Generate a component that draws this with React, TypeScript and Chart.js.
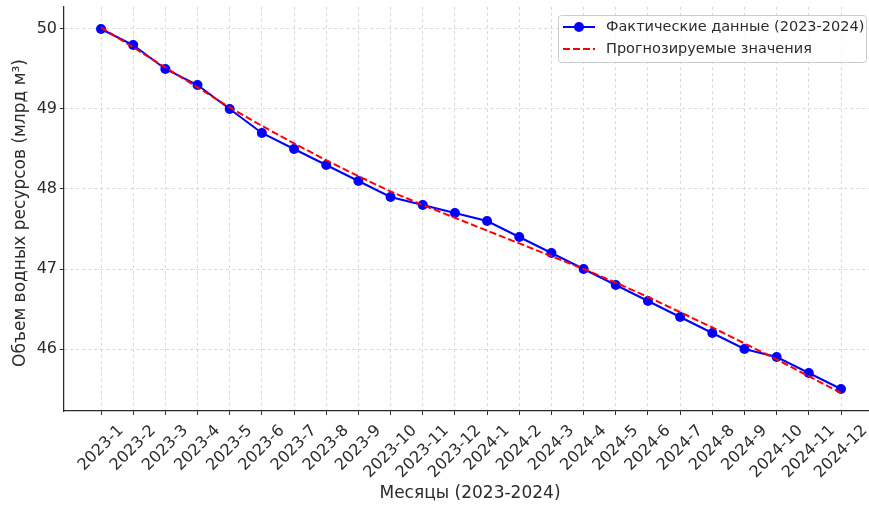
import React, { useEffect, useRef } from "react";
import { Chart, registerables } from "chart.js";

Chart.register(...registerables);

const months = [
  "2023-1", "2023-2", "2023-3", "2023-4", "2023-5", "2023-6",
  "2023-7", "2023-8", "2023-9", "2023-10", "2023-11", "2023-12",
  "2024-1", "2024-2", "2024-3", "2024-4", "2024-5", "2024-6",
  "2024-7", "2024-8", "2024-9", "2024-10", "2024-11", "2024-12",
];

const actual = [
  50.0, 49.8, 49.5, 49.3, 49.0, 48.7, 48.5, 48.3, 48.1, 47.9, 47.8, 47.7,
  47.6, 47.4, 47.2, 47.0, 46.8, 46.6, 46.4, 46.2, 46.0, 45.9, 45.7, 45.5,
];

const forecast = [
  50.02, 49.77, 49.52, 49.27, 49.02, 48.79, 48.57, 48.36, 48.16, 47.97, 47.8, 47.64,
  47.48, 47.32, 47.16, 47.0, 46.83, 46.65, 46.46, 46.27, 46.07, 45.87, 45.66, 45.45,
];

const yTicks = [46, 47, 48, 49, 50];

const actualLabel = "Фактические данные (2023-2024)";
const forecastLabel = "Прогнозируемые значения";
const xTitle = "Месяцы (2023-2024)";
const yTitle = "Объем водных ресурсов (млрд м³)";

const FONT = "DejaVu Sans";
const TEXT = "#2b2b2b";
const BLUE = "#0000ff";
const RED = "#ff0000";
const GRID = "#cfcfcf";

export default function App() {
  const ref = useRef<HTMLCanvasElement>(null);

  useEffect(() => {
    if (!ref.current) return;

    const decor = {
      id: "mplDecor",
      afterDraw(chart: any) {
        const ctx: CanvasRenderingContext2D = chart.ctx;
        const xs = chart.scales.x;
        const area = chart.chartArea;
        ctx.save();
        ctx.fillStyle = TEXT;
        ctx.font = `16px "${FONT}"`;
        // rotated x tick labels, centred on each tick (matplotlib style)
        months.forEach((m, i) => {
          const px = xs.getPixelForValue(i);
          const w = ctx.measureText(m).width;
          const h = 16 * 0.9;
          const half = (w + h) / (2 * Math.SQRT2);
          const cy = area.bottom + 12 + half;
          ctx.save();
          ctx.translate(px, cy);
          ctx.rotate(-Math.PI / 4);
          ctx.textAlign = "center";
          ctx.textBaseline = "middle";
          ctx.fillText(m, 0, 0);
          ctx.restore();
        });
        // axis titles
        ctx.font = `17px "${FONT}"`;
        ctx.textAlign = "center";
        ctx.textBaseline = "middle";
        ctx.fillText(xTitle, (area.left + area.right) / 2 - 1, 494);
        ctx.save();
        ctx.translate(21, (area.top + area.bottom) / 2 + 4);
        ctx.rotate(-Math.PI / 2);
        ctx.fillText(yTitle, 0, 0);
        ctx.restore();

        // legend
        const bx = 558.5, by = 15.5, bw = 308, bh = 47, r = 3;
        ctx.beginPath();
        ctx.moveTo(bx + r, by);
        ctx.lineTo(bx + bw - r, by);
        ctx.arcTo(bx + bw, by, bx + bw, by + r, r);
        ctx.lineTo(bx + bw, by + bh - r);
        ctx.arcTo(bx + bw, by + bh, bx + bw - r, by + bh, r);
        ctx.lineTo(bx + r, by + bh);
        ctx.arcTo(bx, by + bh, bx, by + bh - r, r);
        ctx.lineTo(bx, by + r);
        ctx.arcTo(bx, by, bx + r, by, r);
        ctx.closePath();
        ctx.fillStyle = "rgba(255,255,255,0.8)";
        ctx.fill();
        ctx.strokeStyle = "#cccccc";
        ctx.lineWidth = 1;
        ctx.stroke();

        const y1 = 27, y2 = 49, lx0 = 563, lx1 = 595;
        ctx.strokeStyle = BLUE;
        ctx.lineWidth = 2;
        ctx.setLineDash([]);
        ctx.beginPath();
        ctx.moveTo(lx0, y1);
        ctx.lineTo(lx1, y1);
        ctx.stroke();
        ctx.fillStyle = BLUE;
        ctx.beginPath();
        ctx.arc((lx0 + lx1) / 2, y1, 5, 0, Math.PI * 2);
        ctx.fill();

        ctx.strokeStyle = RED;
        ctx.setLineDash([7, 3]);
        ctx.beginPath();
        ctx.moveTo(lx0, y2);
        ctx.lineTo(lx1, y2);
        ctx.stroke();
        ctx.setLineDash([]);

        ctx.fillStyle = TEXT;
        ctx.font = `14.5px "${FONT}"`;
        ctx.textAlign = "left";
        ctx.textBaseline = "middle";
        ctx.fillText(actualLabel, 606, y1);
        ctx.fillText(forecastLabel, 606, y2);
        ctx.restore();
      },
    };

    const chart = new Chart(ref.current, {
      type: "line",
      data: {
        datasets: [
          {
            label: forecastLabel,
            data: forecast.map((v, i) => ({ x: i, y: v })),
            borderColor: RED,
            backgroundColor: RED,
            borderWidth: 2,
            borderDash: [7, 3],
            pointRadius: 0,
            fill: false,
            tension: 0,
            order: 0,
          },
          {
            label: actualLabel,
            data: actual.map((v, i) => ({ x: i, y: v })),
            borderColor: BLUE,
            backgroundColor: BLUE,
            borderWidth: 2,
            pointRadius: 5,
            pointBorderWidth: 0,
            pointBackgroundColor: BLUE,
            fill: false,
            tension: 0,
            order: 1,
          },
        ],
      },
      options: {
        animation: false,
        responsive: false,
        maintainAspectRatio: false,
        layout: { padding: { top: 7, right: 12, left: 0, bottom: 0 } },
        plugins: {
          legend: { display: false },
          tooltip: { enabled: false },
          title: { display: false },
        },
        scales: {
          x: {
            type: "linear",
            min: -1.15,
            max: months.length - 1 + 1.15,
            afterBuildTicks: (axis: any) => {
              axis.ticks = months.map((_, i) => ({ value: i }));
            },
            afterFit: (axis: any) => {
              axis.height = 94;
              axis.paddingLeft = 0;
              axis.paddingRight = 0;
            },
            grid: {
              color: GRID,
              lineWidth: 0.8,
              drawTicks: true,
              tickLength: 4,
              tickColor: TEXT,
              tickWidth: 1,
            },
            border: { display: true, color: TEXT, width: 1.25, dash: [3, 3] },
            ticks: { display: false },
          },
          y: {
            type: "linear",
            min: 45.225,
            max: 50.275,
            afterBuildTicks: (axis: any) => {
              axis.ticks = yTicks.map((v) => ({ value: v }));
            },
            afterFit: (axis: any) => {
              axis.width = 64;
              axis.paddingTop = 0;
              axis.paddingBottom = 0;
            },
            grid: {
              color: GRID,
              lineWidth: 0.8,
              drawTicks: true,
              tickLength: 4,
              tickColor: TEXT,
              tickWidth: 1,
            },
            border: { display: true, color: TEXT, width: 1.25, dash: [3, 3] },
            ticks: {
              font: { family: FONT, size: 16 },
              color: TEXT,
              padding: 3,
              callback: (v: any) => String(v),
            },
          },
        },
      },
      plugins: [decor],
    });

    return () => chart.destroy();
  }, []);

  return (
    <div
      style={{
        position: "fixed",
        left: 0,
        top: 0,
        width: 869,
        height: 505,
        overflow: "hidden",
        background: "#ffffff",
      }}
    >
      <canvas ref={ref} width={890} height={505} style={{ width: 890, height: 505 }} />
    </div>
  );
}
